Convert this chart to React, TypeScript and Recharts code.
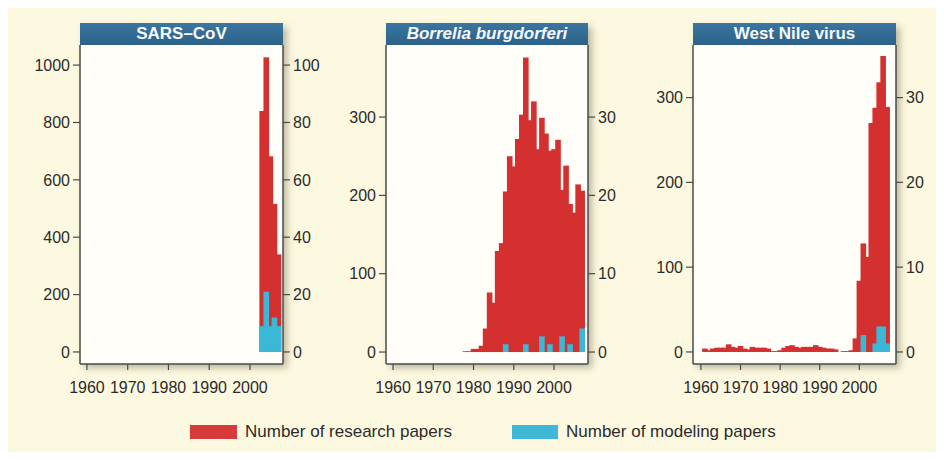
import React from "react";
import { BarChart, Bar, XAxis, YAxis } from "recharts";

const FONT = '"Liberation Sans", Arial, Helvetica, sans-serif';
const RED = "#d3302f";
const BLUE = "#3bb8d6";
const AXIS = "#4a4a4a";
const TEXT = "#2b2b2b";

const xTicks = [1960, 1970, 1980, 1990, 2000];

// SARS-CoV
const sarsYears = [2003, 2004, 2005, 2006, 2007];
const sarsResearch = [840, 1027, 682, 516, 340];
const sarsModeling = [9, 21, 9, 12, 9];
const sarsLeftTicks = [0, 200, 400, 600, 800, 1000];
const sarsRightTicks = [0, 20, 40, 60, 80, 100];

// Borrelia burgdorferi
const borYears = [
  1978, 1979, 1980, 1981, 1982, 1983, 1984, 1985, 1986, 1987,
  1988, 1989, 1990, 1991, 1992, 1993, 1994, 1995, 1996, 1997,
  1998, 1999, 2000, 2001, 2002, 2003, 2004, 2005, 2006, 2007,
];
const borResearch = [
  1, 1, 4, 4, 8, 30, 76, 63, 129, 139,
  205, 250, 237, 272, 303, 376, 296, 320, 259, 299,
  279, 257, 259, 271, 207, 238, 189, 178, 214, 206,
];
const borModeling = [
  0, 0, 0, 0, 0, 0, 0, 0, 0, 0,
  1, 0, 0, 0, 0, 1, 0, 0, 0, 2,
  0, 1, 0, 0, 2, 0, 1, 0, 0, 3,
];
const borLeftTicks = [0, 100, 200, 300];
const borRightTicks = [0, 10, 20, 30];

// West Nile virus
const wnvYears = [
  1961, 1962, 1963, 1964, 1965, 1966, 1967, 1968, 1969, 1970,
  1971, 1972, 1973, 1974, 1975, 1976, 1977, 1978, 1979, 1980,
  1981, 1982, 1983, 1984, 1985, 1986, 1987, 1988, 1989, 1990,
  1991, 1992, 1993, 1994, 1995, 1996, 1997, 1998, 1999, 2000,
  2001, 2002, 2003, 2004, 2005, 2006, 2007,
];
const wnvResearch = [
  4, 2, 4, 5, 5, 5, 9, 6, 5, 7,
  4, 3, 6, 5, 5, 5, 4, 1, 1, 2,
  5, 7, 8, 6, 5, 6, 6, 6, 8, 6,
  5, 4, 4, 3, 0, 1, 1, 2, 16, 84,
  128, 112, 270, 288, 318, 349, 289,
];
const wnvModeling = [
  0, 0, 0, 0, 0, 0, 0, 0, 0, 0,
  0, 0, 0, 0, 0, 0, 0, 0, 0, 0,
  0, 0, 0, 0, 0, 0, 0, 0, 0, 0,
  0, 0, 0, 0, 0, 0, 0, 0, 0, 0,
  2, 0, 0, 1, 3, 3, 1,
];
const wnvLeftTicks = [0, 100, 200, 300];
const wnvRightTicks = [0, 10, 20, 30];

const HEADER_TOP = 23;
const PLOT_TOP = 45;
const PLOT_BOTTOM = 364;
const SIDE = 55;
const TOP_PAD = 12;
const X_AXIS_H = 44;

// Bar shape that slightly overlaps its neighbours so adjacent years touch
const JoinedBar = (props: any) => {
  const { x, y, width, height, fill } = props;
  if (!height || height <= 0 || !width) return null;
  return <rect x={x - 0.8} y={y} width={width + 1.6} height={height} fill={fill} />;
};

type PanelProps = {
  title: string;
  italic?: boolean;
  years: number[];
  research: number[];
  modeling: number[];
  xDomain: [number, number];
  leftDomain: [number, number];
  leftTicks: number[];
  rightDomain: [number, number];
  rightTicks: number[];
  plotLeft: number;
  plotRight: number;
};

function Panel(p: PanelProps) {
  const data = p.years.map((y, i) => ({
    year: y,
    research: p.research[i] > 0 ? p.research[i] : null,
    modeling: p.modeling[i] > 0 ? p.modeling[i] : null,
  }));
  const plotW = p.plotRight - p.plotLeft;
  const chartLeft = p.plotLeft - SIDE;
  const chartTop = PLOT_TOP - TOP_PAD;
  const chartW = plotW + 2 * SIDE;
  const chartH = PLOT_BOTTOM - chartTop + X_AXIS_H;
  const tickStyle = { fill: TEXT, fontSize: 16, fontFamily: FONT };
  return (
    <>
      <div
        style={{
          position: "absolute",
          left: p.plotLeft,
          top: HEADER_TOP,
          width: plotW,
          height: PLOT_BOTTOM - HEADER_TOP,
          background: "#fffef8",
          boxShadow: "4px 4px 7px rgba(70,60,30,0.35)",
        }}
      />
      <div style={{ position: "absolute", left: chartLeft, top: chartTop }}>
        <BarChart
          width={chartW}
          height={chartH}
          data={data}
          margin={{ top: TOP_PAD, right: 0, bottom: 0, left: 0 }}
          barCategoryGap={0}
          barGap={0}
        >
          <XAxis
            xAxisId="main"
            dataKey="year"
            type="number"
            domain={p.xDomain}
            allowDataOverflow
            ticks={xTicks}
            interval={0}
            tickSize={6}
            tickMargin={12}
            height={X_AXIS_H}
            tick={tickStyle}
            tickLine={{ stroke: AXIS, strokeWidth: 1.2 }}
            axisLine={{ stroke: AXIS, strokeWidth: 1.5 }}
          />
          <XAxis
            xAxisId="over"
            dataKey="year"
            type="number"
            domain={p.xDomain}
            allowDataOverflow
            hide
          />
          <YAxis
            yAxisId="left"
            orientation="left"
            type="number"
            domain={p.leftDomain}
            allowDataOverflow
            ticks={p.leftTicks}
            interval={0}
            width={SIDE}
            tickSize={7}
            tickMargin={3}
            tick={tickStyle}
            tickLine={{ stroke: AXIS, strokeWidth: 1.2 }}
            axisLine={{ stroke: AXIS, strokeWidth: 1.5 }}
          />
          <YAxis
            yAxisId="right"
            orientation="right"
            type="number"
            domain={p.rightDomain}
            allowDataOverflow
            ticks={p.rightTicks}
            interval={0}
            width={SIDE}
            tickSize={7}
            tickMargin={3}
            tick={tickStyle}
            tickLine={{ stroke: AXIS, strokeWidth: 1.2 }}
            axisLine={{ stroke: AXIS, strokeWidth: 1.5 }}
          />
          <Bar
            xAxisId="main"
            yAxisId="left"
            dataKey="research"
            fill={RED}
            shape={JoinedBar}
            isAnimationActive={false}
          />
          <Bar
            xAxisId="over"
            yAxisId="right"
            dataKey="modeling"
            fill={BLUE}
            shape={JoinedBar}
            isAnimationActive={false}
          />
        </BarChart>
      </div>
      <div
        style={{
          position: "absolute",
          left: p.plotLeft,
          top: HEADER_TOP,
          width: plotW,
          height: PLOT_TOP - HEADER_TOP,
          background: "linear-gradient(#3a76a0, #2c6189)",
          color: "#f6f9fb",
          fontFamily: FONT,
          fontWeight: "bold",
          fontStyle: p.italic ? "italic" : "normal",
          fontSize: 17,
          lineHeight: `${PLOT_TOP - HEADER_TOP}px`,
          textAlign: "center",
          whiteSpace: "nowrap",
        }}
      >
        {p.title}
      </div>
    </>
  );
}

export default function App() {
  return (
    <div
      style={{
        position: "absolute",
        left: 0,
        top: 0,
        width: 944,
        height: 460,
        background: "#ffffff",
        overflow: "hidden",
      }}
    >
      <div
        style={{
          position: "absolute",
          left: 8,
          top: 8,
          width: 928,
          height: 444,
          background: "#fdf9e1",
        }}
      />
      <Panel
        title="SARS–CoV"
        years={sarsYears}
        research={sarsResearch}
        modeling={sarsModeling}
        xDomain={[1958.3, 2008.1]}
        leftDomain={[-42, 1070]}
        leftTicks={sarsLeftTicks}
        rightDomain={[-4.2, 107]}
        rightTicks={sarsRightTicks}
        plotLeft={80}
        plotRight={283}
      />
      <Panel
        title="Borrelia burgdorferi"
        italic
        years={borYears}
        research={borResearch}
        modeling={borModeling}
        xDomain={[1958.25, 2008.45]}
        leftDomain={[-15.3, 392]}
        leftTicks={borLeftTicks}
        rightDomain={[-1.53, 39.2]}
        rightTicks={borRightTicks}
        plotLeft={386}
        plotRight={588}
      />
      <Panel
        title="West Nile virus"
        years={wnvYears}
        research={wnvResearch}
        modeling={wnvModeling}
        xDomain={[1958, 2009.25]}
        leftDomain={[-14.2, 362]}
        leftTicks={wnvLeftTicks}
        rightDomain={[-1.42, 36.2]}
        rightTicks={wnvRightTicks}
        plotLeft={693}
        plotRight={896}
      />
      <div
        style={{
          position: "absolute",
          left: 190,
          top: 425,
          width: 47,
          height: 14,
          background: "#d63a3a",
        }}
      />
      <div
        style={{
          position: "absolute",
          left: 245,
          top: 422,
          height: 20,
          lineHeight: "20px",
          fontFamily: FONT,
          fontSize: 17,
          color: TEXT,
          whiteSpace: "nowrap",
        }}
      >
        Number of research papers
      </div>
      <div
        style={{
          position: "absolute",
          left: 512,
          top: 425,
          width: 46,
          height: 14,
          background: "#3fb8d6",
        }}
      />
      <div
        style={{
          position: "absolute",
          left: 566,
          top: 422,
          height: 20,
          lineHeight: "20px",
          fontFamily: FONT,
          fontSize: 17,
          color: TEXT,
          whiteSpace: "nowrap",
        }}
      >
        Number of modeling papers
      </div>
    </div>
  );
}
